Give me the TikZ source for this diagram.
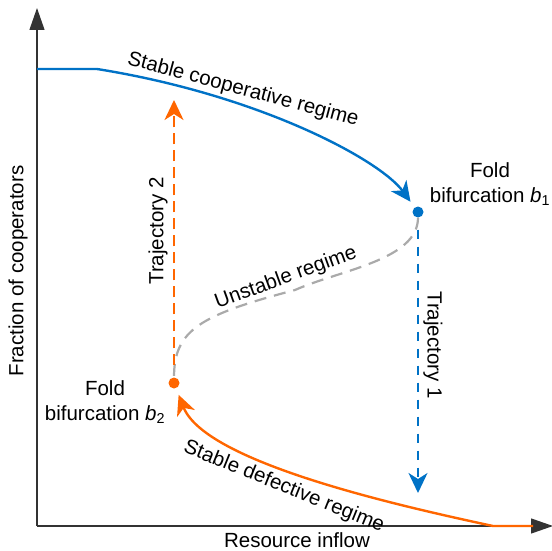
\documentclass[tikz,border=0pt]{standalone}
\usepackage{fontspec}
\setmainfont{Liberation Sans}
\usetikzlibrary{arrows.meta}
\definecolor{coopblue}{RGB}{0,114,198}
\definecolor{deforange}{RGB}{255,102,0}
\definecolor{unstgray}{RGB}{170,170,170}

\begin{document}
\begin{tikzpicture}[x=1pt, y=-1pt, every node/.style={font=\fontsize{20.5}{25}\selectfont, inner sep=0pt},
	>={Stealth[length=20pt, width=19pt, inset=6pt]}]
	\useasboundingbox (0, 0) rectangle (552, 551);
	
	\coordinate (o) at (37, 526);
	\coordinate (ytop) at (37, 8);
	\coordinate (xend) at (553, 526);
	\coordinate (cstart) at (37, 69);
	\coordinate (cflat) at (97, 69);
	\coordinate (dstart) at (533, 526);
	\coordinate (dflat) at (493, 526);
	\coordinate (t1end) at (418, 493);
	\coordinate (t2end) at (174, 100);
	
	\node[fill=coopblue, circle, minimum size=11pt] (b1) at (418, 212) {};
	\node[fill=deforange, circle, minimum size=11pt] (b2) at (174, 383) {};
	
	% axes
	\draw[black!80, line width=1.2pt, -{Triangle[length=22pt, width=15pt]}] (o) -- (ytop);
	\draw[black!80, line width=1.2pt, -{Triangle[length=22pt, width=15pt]}] (o) -- (xend);
	
	% branches
	\draw[->, coopblue, line width=2.4pt, shorten >=7pt] (cstart) -- (cflat) .. controls (260, 95) and (380, 160) .. (b1);
	\draw[->, deforange, line width=2.4pt, shorten >=7pt] (dstart) -- (dflat) .. controls (395, 505) and (205, 462) .. (b2);
	\draw[unstgray, line width=2.2pt, dash pattern=on 12pt off 8pt] (b1) .. controls (418, 260) and (340, 270) .. (295, 290) .. controls (200, 315) and (174, 330) .. (b2);
	
	% trajectories
	\draw[->, coopblue, line width=2.2pt, dash pattern=on 9pt off 8pt, shorten <=12pt] (b1) -- (t1end);
	\draw[->, deforange, line width=2.2pt, dash pattern=on 11pt off 6pt, shorten <=12pt] (b2) -- (t2end);
	
	% labels
	\node[rotate=-15] (lcoop) at (243, 90) {Stable cooperative regime};
	\node[rotate=20] (lunst) at (286, 278) {Unstable regime};
	\node[rotate=-22] (ldef) at (284, 487) {Stable defective regime};
	\node[rotate=90] (ltr2) at (158, 231) {Trajectory 2};
	\node[rotate=-90] (ltr1) at (433, 345) {Trajectory 1};
	\node[align=center] (lb1) at (490, 184) {Fold\\bifurcation \textit{b}\textsubscript{1}};
	\node[align=center] (lb2) at (105, 402) {Fold\\bifurcation \textit{b}\textsubscript{2}};
	\node[rotate=90] (ly) at (18, 271) {Fraction of cooperators};
	\node (lx) at (297, 540) {Resource inflow};
\end{tikzpicture}
\end{document}
